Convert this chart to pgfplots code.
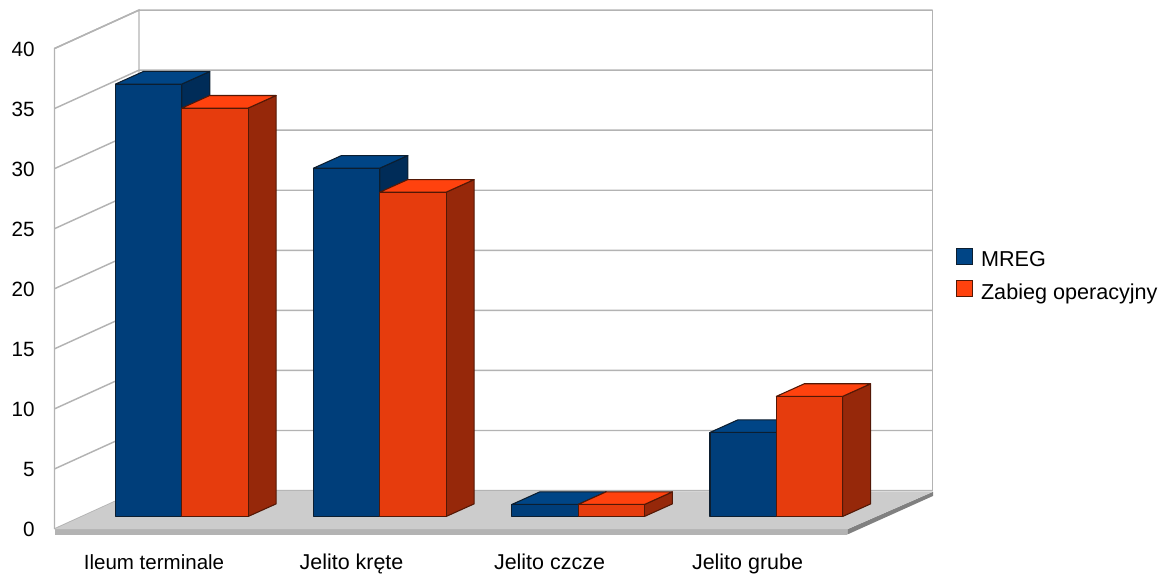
\documentclass[border=0pt]{standalone}
\usepackage{pgfplots}
\pgfplotsset{compat=1.18}
\usepackage{fontspec}
\setmainfont{Liberation Sans}

% series colours: front, top and side faces plus edge
\definecolor{blueFront}{HTML}{003E7A}
\definecolor{blueTop}{HTML}{004586}
\definecolor{blueSide}{HTML}{002C58}
\definecolor{blueEdge}{HTML}{0C1E30}
\definecolor{redFront}{HTML}{E63C0D}
\definecolor{redTop}{HTML}{FF420E}
\definecolor{redSide}{HTML}{96280A}
\definecolor{redEdge}{HTML}{521806}
\definecolor{wallLine}{HTML}{B3B3B3}
\definecolor{floorTop}{HTML}{CCCCCC}
\definecolor{floorFront}{HTML}{B3B3B3}
\definecolor{floorSide}{HTML}{808080}

% column width and oblique depth of the pseudo-3D projection
\def\colw{66.3}
\def\depthx{28}
\def\depthy{1.05}

% #1 left x, #2 value, #3 colour prefix (blue or red)
\newcommand{\column}[3]{%
  \pgfmathsetmacro\xr{#1+\colw}%
  \pgfmathsetmacro\xrb{\xr+\depthx}%
  \pgfmathsetmacro\xlb{#1+\depthx}%
  \pgfmathsetmacro\yt{#2+\depthy}%
  \addplot[forget plot,fill=#3Side,draw=#3Edge,line width=0.8pt,line join=round]
    coordinates {(\xr,0)(\xrb,\depthy)(\xrb,\yt)(\xr,#2)} --cycle;
  \addplot[forget plot,fill=#3Top,draw=#3Edge,line width=0.8pt,line join=round]
    coordinates {(#1,#2)(\xr,#2)(\xrb,\yt)(\xlb,\yt)} --cycle;
  \addplot[forget plot,fill=#3Front,draw=#3Edge,line width=0.8pt,line join=round]
    coordinates {(#1,0)(\xr,0)(\xr,#2)(#1,#2)} --cycle;
}

\begin{document}
\begin{tikzpicture}
\begin{axis}[
  scale only axis,
  width=875.25pt,
  height=435.75pt,
  xmin=0, xmax=1167,
  ymin=-5.37, ymax=43.0,
  clip=false,
  axis line style={draw=none},
  major tick length=0pt,
  tick style={draw=none},
  ytick={0,5,10,15,20,25,30,35,40},
  xtick={154,351.5,549.5,747.5},
  xticklabels={{\fontsize{15.4pt}{18pt}\selectfont Ileum terminale},Jelito kręte,Jelito czcze,Jelito grube},
  tick label style={font=\fontsize{15.5pt}{18pt}\selectfont},
  xticklabel style={font=\fontsize{16.1pt}{18pt}\selectfont},
  /pgf/number format/assume math mode=true,
  yticklabel style={anchor=base east,inner sep=0pt,xshift=26.25pt,yshift=-15pt},
  xticklabel style={anchor=base,inner sep=0pt,yshift=8.25pt},
  legend style={
    at={(axis cs:955.5,22.38)},anchor=north west,
    draw=none,fill=none,inner sep=0pt,
    font=\fontsize{16.2pt}{19pt}\selectfont,
    row sep=8.15pt,
    nodes={inner sep=0pt},
  },
  legend cell align=left,
]
  % back wall and side wall
  \addplot[forget plot,draw=wallLine,line width=1.1pt]
    coordinates {(54.5,-1.04)(54.5,38.96)(139,42.16)(139,2.16)};
  \addplot[forget plot,draw=wallLine,line width=1.1pt]
    coordinates {(932.5,2.16)(932.5,42.16)};
  \pgfplotsinvokeforeach{0,5,...,40}{
    \pgfmathsetmacro\yb{#1+2.16}
    \pgfmathsetmacro\yf{#1-1.04}
    \addplot[forget plot,draw=wallLine,line width=1.1pt]
      coordinates {(54.5,\yf)(139,\yb)(932.5,\yb)};
  }
  % floor slab
  \addplot[forget plot,fill=floorFront,draw=none]
    coordinates {(54.5,-1.06)(847.3,-1.06)(847.3,-1.5)(54.5,-1.5)} --cycle;
  \addplot[forget plot,fill=floorSide,draw=none]
    coordinates {(847.3,-1.06)(933,2.06)(933,1.71)(847.3,-1.5)} --cycle;
  \addplot[forget plot,fill=floorTop,draw=none]
    coordinates {(54.5,-1.06)(847.3,-1.06)(933,2.06)(139,2.16)} --cycle;

  % Ileum terminale
  \column{115.5}{36}{blue}
  \column{181.8}{34}{red}
  % Jelito kręte
  \column{313.5}{29}{blue}
  \column{379.8}{27}{red}
  % Jelito czcze
  \column{511.8}{1}{blue}
  \column{578.1}{1}{red}
  % Jelito grube
  \column{710}{7}{blue}
  \column{776.3}{10}{red}

  \addlegendimage{legend image code/.code={\path (18.4pt,0pt);\draw[fill=blueTop,draw=blueEdge,line width=0.7pt] (0pt,-3pt) rectangle (12pt,9pt);}}
  \addlegendentry{MREG}
  \addlegendimage{legend image code/.code={\path (18.4pt,0pt);\draw[fill=redTop,draw=redEdge,line width=0.7pt] (0pt,-3pt) rectangle (12pt,9pt);}}
  \addlegendentry{Zabieg operacyjny}
\end{axis}
\end{tikzpicture}
\end{document}
